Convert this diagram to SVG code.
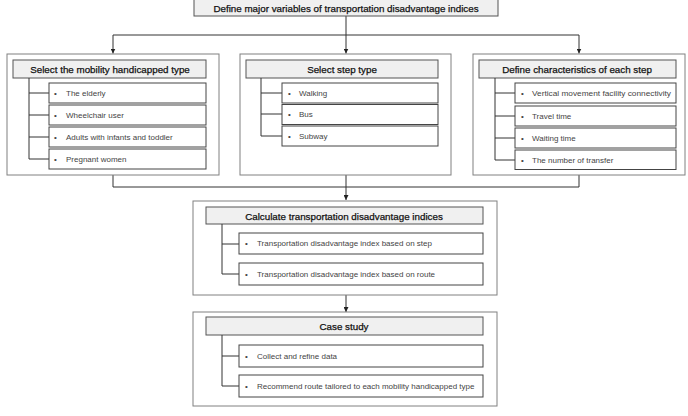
<svg xmlns="http://www.w3.org/2000/svg" width="688" height="416" viewBox="0 0 688 416">
<defs>
<marker id="arr" viewBox="0 0 10 10" refX="10" refY="5" markerWidth="5" markerHeight="5" orient="auto"><path d="M0,0 L10,5 L0,10 z" fill="#222"/></marker>
<style>
.outer{fill:#fff;stroke:#808080;stroke-width:1}
.head{fill:#f0f0f0;stroke:#555;stroke-width:1}
.item{fill:#fff;stroke:#444;stroke-width:1}
.ht{font-family:"Liberation Sans",Arial,sans-serif;font-size:9.8px;fill:#111;text-anchor:middle;dominant-baseline:central;stroke:#111;stroke-width:0.25}
.it{font-family:"Liberation Sans",Arial,sans-serif;font-size:8px;fill:#444;dominant-baseline:central}
.tree{fill:none;stroke:#333;stroke-width:1}
.conn{fill:none;stroke:#333;stroke-width:1}
</style>
</defs>
<rect width="688" height="416" fill="#fff"/>

<g id="connectors">
<path class="conn" d="M346,16 V35"/>
<path class="conn" d="M113,35 H579"/>
<path class="conn" d="M113,35 V53.5" marker-end="url(#arr)"/>
<path class="conn" d="M346,35 V53.5" marker-end="url(#arr)"/>
<path class="conn" d="M579,35 V53.5" marker-end="url(#arr)"/>
<path class="conn" d="M113,175 V187 H579 V175"/>
<path class="conn" d="M346,175 V200" marker-end="url(#arr)"/>
<path class="conn" d="M346,295 V312" marker-end="url(#arr)"/>
</g>

<g id="top">
<rect class="head" x="194" y="-1" width="304" height="17"/>
<text class="ht" x="346" y="8">Define major variables of transportation disadvantage indices</text>
</g>

<g id="mobility">
<rect class="outer" x="7" y="54" width="212" height="121"/>
<rect class="head" x="13" y="60" width="193" height="18"/>
<text class="ht" x="110" y="69.5">Select the mobility handicapped type</text>
<path class="tree" d="M29,78 V159 M29,93 H49 M29,115 H49 M29,137 H49 M29,159 H49"/>
<rect class="item" x="49" y="83" width="157" height="20"/>
<rect class="item" x="49" y="105" width="157" height="20"/>
<rect class="item" x="49" y="127" width="157" height="20"/>
<rect class="item" x="49" y="149" width="157" height="20"/>
<text class="it" x="54" y="93">•</text><text class="it" x="66" y="93">The elderly</text>
<text class="it" x="54" y="115">•</text><text class="it" x="66" y="115">Wheelchair user</text>
<text class="it" x="54" y="137">•</text><text class="it" x="66" y="137">Adults with infants and toddler</text>
<text class="it" x="54" y="159">•</text><text class="it" x="66" y="159">Pregnant women</text>
</g>

<g id="step">
<rect class="outer" x="240" y="54" width="211" height="121"/>
<rect class="head" x="246" y="60" width="192" height="18"/>
<text class="ht" x="342" y="69.5">Select step type</text>
<path class="tree" d="M261,78 V136 M261,93 H282 M261,114 H282 M261,136 H282"/>
<rect class="item" x="282" y="83" width="156" height="20"/>
<rect class="item" x="282" y="104.5" width="156" height="20"/>
<rect class="item" x="282" y="126" width="156" height="20"/>
<text class="it" x="288" y="93">•</text><text class="it" x="299" y="93">Walking</text>
<text class="it" x="288" y="114.5">•</text><text class="it" x="299" y="114.5">Bus</text>
<text class="it" x="288" y="136">•</text><text class="it" x="299" y="136">Subway</text>
</g>

<g id="characteristics">
<rect class="outer" x="473" y="54" width="212" height="121"/>
<rect class="head" x="479" y="60" width="197" height="18"/>
<text class="ht" x="577" y="69.5">Define characteristics of each step</text>
<path class="tree" d="M495,78 V160 M495,93 H515 M495,116 H515 M495,138 H515 M495,160 H515"/>
<rect class="item" x="515" y="83" width="161" height="20"/>
<rect class="item" x="515" y="106" width="161" height="20"/>
<rect class="item" x="515" y="128" width="161" height="20"/>
<rect class="item" x="515" y="150" width="161" height="19.5"/>
<text class="it" x="521" y="93">•</text><text class="it" x="532" y="93" textLength="139" lengthAdjust="spacingAndGlyphs">Vertical movement facility connectivity</text>
<text class="it" x="521" y="116">•</text><text class="it" x="532" y="116">Travel time</text>
<text class="it" x="521" y="138">•</text><text class="it" x="532" y="138">Waiting time</text>
<text class="it" x="521" y="160">•</text><text class="it" x="532" y="160">The number of transfer</text>
</g>

<g id="calculate">
<rect class="outer" x="193" y="201" width="304" height="94"/>
<rect class="head" x="206" y="207" width="277" height="17"/>
<text class="ht" x="344" y="216">Calculate transportation disadvantage indices</text>
<path class="tree" d="M222,224 V274 M222,244 H239 M222,274 H239"/>
<rect class="item" x="239" y="233" width="244" height="21"/>
<rect class="item" x="239" y="263" width="244" height="22"/>
<text class="it" x="245" y="243.5">•</text><text class="it" x="257" y="243.5">Transportation disadvantage index based on step</text>
<text class="it" x="245" y="274">•</text><text class="it" x="257" y="274">Transportation disadvantage index based on route</text>
</g>

<g id="casestudy">
<rect class="outer" x="193" y="312" width="304" height="94"/>
<rect class="head" x="206" y="317" width="277" height="18"/>
<text class="ht" x="344" y="326.5">Case study</text>
<path class="tree" d="M222,335 V386 M222,356 H239 M222,386 H239"/>
<rect class="item" x="239" y="345" width="244" height="22"/>
<rect class="item" x="239" y="375" width="244" height="22"/>
<text class="it" x="245" y="356">•</text><text class="it" x="257" y="356">Collect and refine data</text>
<text class="it" x="245" y="386">•</text><text class="it" x="257" y="386">Recommend route tailored to each mobility handicapped type</text>
</g>
</svg>
